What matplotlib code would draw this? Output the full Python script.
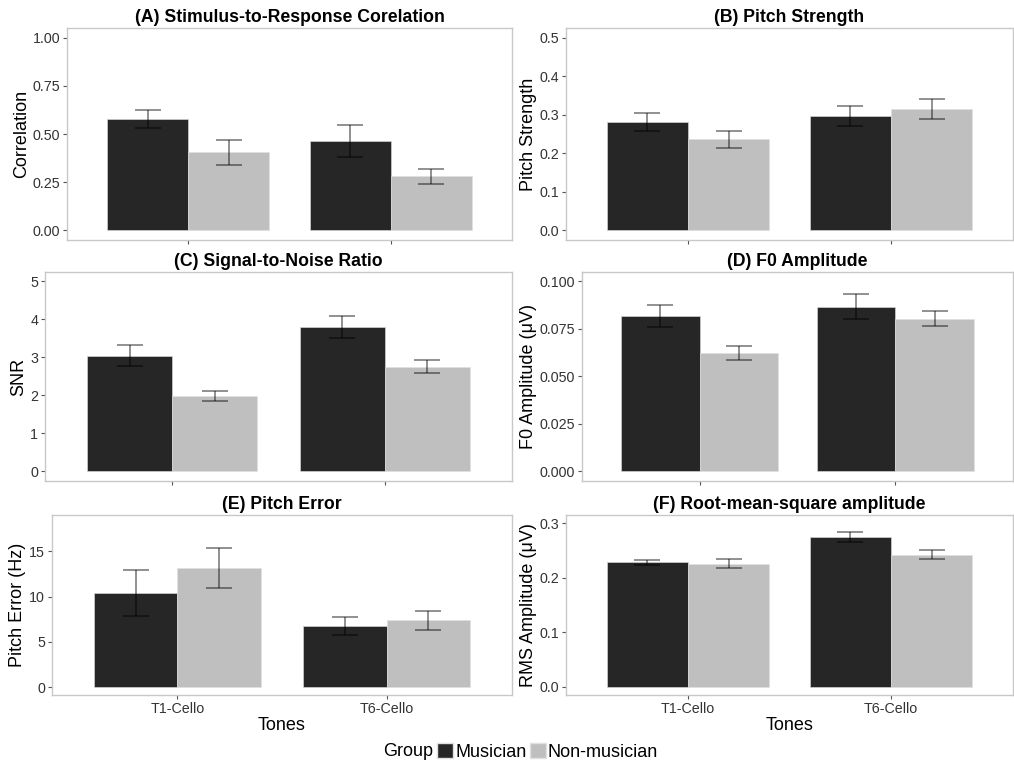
import matplotlib
matplotlib.use('Agg')
import matplotlib.pyplot as plt
import matplotlib.patches as mpatches
import numpy as np

plt.rcParams['font.family'] = ['Liberation Sans', 'DejaVu Sans']

tones = ['T1-Cello', 'T6-Cello']
groups = ['Musician', 'Non-musician']

# средние значения и стандартные ошибки (musician, non-musician) по тонам
corr_mus = [0.578, 0.465]
corr_mus_se = [0.045, 0.083]
corr_non = [0.405, 0.281]
corr_non_se = [0.064, 0.038]

ps_mus = [0.281, 0.296]
ps_mus_se = [0.024, 0.026]
ps_non = [0.236, 0.314]
ps_non_se = [0.022, 0.026]

snr_mus = [3.05, 3.80]
snr_mus_se = [0.28, 0.29]
snr_non = [1.99, 2.76]
snr_non_se = [0.135, 0.165]

f0_mus = [0.0818, 0.0868]
f0_mus_se = [0.0060, 0.0064]
f0_non = [0.0625, 0.0804]
f0_non_se = [0.0037, 0.0040]

pe_mus = [10.37, 6.73]
pe_mus_se = [2.55, 0.97]
pe_non = [13.13, 7.39]
pe_non_se = [2.20, 1.03]

rms_mus = [0.228, 0.274]
rms_mus_se = [0.0045, 0.009]
rms_non = [0.226, 0.242]
rms_non_se = [0.008, 0.0085]

W, H = 1014, 761
DARK = '#262626'
LIGHT = '#bfbfbf'
BORDER = '#c8c8c8'


def px_axes(fig, x0, x1, ytop, ybot):
    return fig.add_axes([x0 / W, 1 - ybot / H, (x1 - x0) / W, (ybot - ytop) / H])


def bar_panel(ax, title, ylabel, mus, mus_se, non, non_se, yticks, fmt, ylim, show_x):
    x = np.arange(1, len(tones) + 1)
    bw = 0.4
    ax.bar(x - bw / 2, mus, bw, color=DARK, edgecolor='#e0e0e0', linewidth=0.4, zorder=2)
    ax.bar(x + bw / 2, non, bw, color=LIGHT, edgecolor='#e0e0e0', linewidth=0.4, zorder=2)
    ax.errorbar(x - bw / 2, mus, yerr=mus_se, fmt='none', ecolor='black', alpha=0.55,
                elinewidth=1.1, capsize=9.5, capthick=1.1, zorder=3)
    ax.errorbar(x + bw / 2, non, yerr=non_se, fmt='none', ecolor='black', alpha=0.55,
                elinewidth=1.1, capsize=9.5, capthick=1.1, zorder=3)
    ax.set_xlim(0.4, 2.6)
    ax.set_ylim(*ylim)
    ax.set_yticks(yticks)
    ax.set_yticklabels([fmt.format(v) for v in yticks])
    ax.set_xticks(x)
    if show_x:
        ax.set_xticklabels(tones)
        ax.set_xlabel('Tones', fontsize=13, labelpad=1)
    else:
        ax.set_xticklabels([])
    ax.set_title(title, fontsize=12.7, fontweight='bold', pad=4)
    ax.set_ylabel(ylabel, fontsize=13, labelpad=2)
    ax.tick_params(axis='both', labelsize=10.3, colors='#555555', labelcolor='#333333',
                   length=3, width=0.8, pad=2)
    for s in ax.spines.values():
        s.set_color(BORDER)
        s.set_linewidth(1.0)


fig = plt.figure(figsize=(W / 100, H / 100), dpi=100)

ax = px_axes(fig, 67, 512, 28, 240)
bar_panel(ax, '(A) Stimulus-to-Response Corelation', 'Correlation',
          corr_mus, corr_mus_se, corr_non, corr_non_se,
          [0, 0.25, 0.5, 0.75, 1.0], '{:.2f}', (-0.05, 1.05), False)

ax = px_axes(fig, 566, 1013, 28, 240)
bar_panel(ax, '(B) Pitch Strength', 'Pitch Strength',
          ps_mus, ps_mus_se, ps_non, ps_non_se,
          [0, 0.1, 0.2, 0.3, 0.4, 0.5], '{:.1f}', (-0.025, 0.525), False)

ax = px_axes(fig, 45, 512, 272, 481)
bar_panel(ax, '(C) Signal-to-Noise Ratio', 'SNR',
          snr_mus, snr_mus_se, snr_non, snr_non_se,
          [0, 1, 2, 3, 4, 5], '{:d}', (-0.25, 5.25), False)

ax = px_axes(fig, 582, 1013, 272, 481)
bar_panel(ax, '(D) F0 Amplitude', 'F0 Amplitude (\u03bcV)',
          f0_mus, f0_mus_se, f0_non, f0_non_se,
          [0, 0.025, 0.05, 0.075, 0.1], '{:.3f}', (-0.005, 0.105), False)

ax = px_axes(fig, 52, 512, 515, 695)
bar_panel(ax, '(E) Pitch Error', 'Pitch Error (Hz)',
          pe_mus, pe_mus_se, pe_non, pe_non_se,
          [0, 5, 10, 15], '{:d}', (-0.85, 19.0), True)

ax = px_axes(fig, 566, 1013, 515, 695)
bar_panel(ax, '(F) Root-mean-square amplitude', 'RMS Amplitude (\u03bcV)',
          rms_mus, rms_mus_se, rms_non, rms_non_se,
          [0, 0.1, 0.2, 0.3], '{:.1f}', (-0.015, 0.315), True)

# легенда внизу
fig.text(383 / W, 1 - 752 / H, 'Group', fontsize=13, va='center', ha='left')
handles = [mpatches.Patch(facecolor=DARK, edgecolor='#e0e0e0', label=groups[0]),
           mpatches.Patch(facecolor=LIGHT, edgecolor='#e0e0e0', label=groups[1])]
fig.legend(handles=handles, loc='center left', bbox_to_anchor=(437 / W, 1 - 752 / H),
           ncol=2, frameon=False, fontsize=13, handlelength=0.9, handleheight=0.9,
           handletextpad=0.1, columnspacing=0.2, borderpad=0, borderaxespad=0)

fig.savefig('out.png', dpi=100)
